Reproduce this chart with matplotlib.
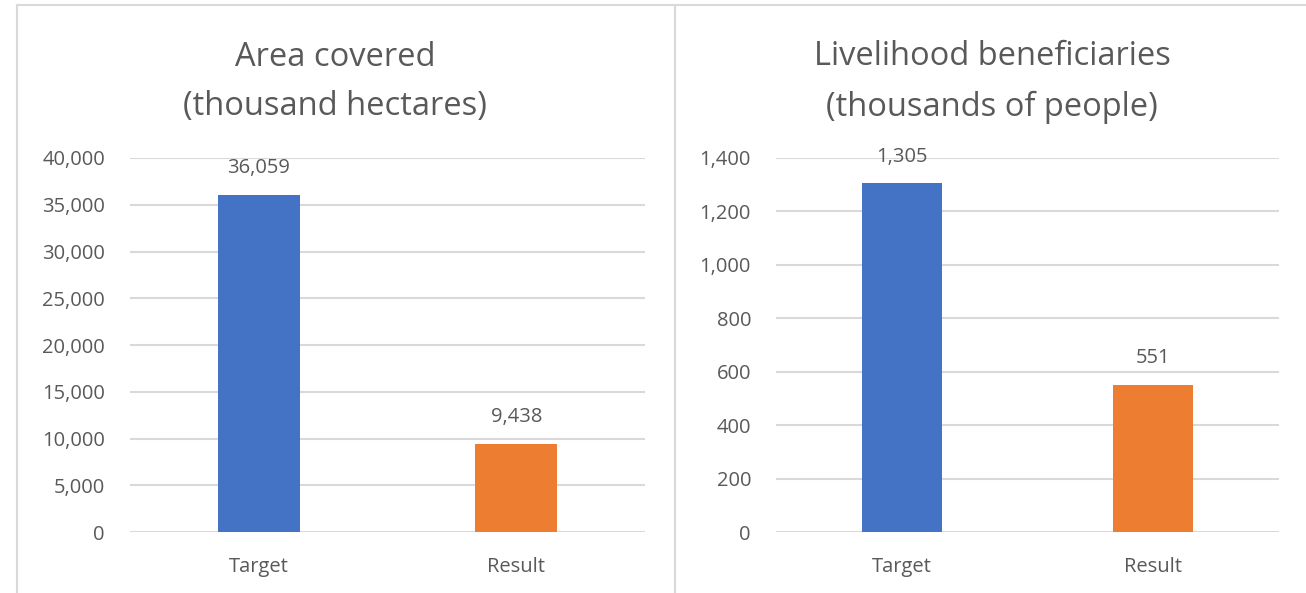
import matplotlib
matplotlib.use("Agg")
import matplotlib.pyplot as plt
from matplotlib.lines import Line2D
from matplotlib.ticker import FuncFormatter, MultipleLocator

categories = ["Target", "Result"]
area_values = [36059, 9438]
benef_values = [1305, 551]
titles = ["Area covered\n(thousand hectares)", "Livelihood beneficiaries\n(thousands of people)"]
bar_colors = ["#4472C4", "#ED7D31"]

plt.rcParams['font.family'] = ['Open Sans', 'DejaVu Sans']
TXT = "#595959"
GRID = "#D9D9D9"

W, H = 1306, 593
fig = plt.figure(figsize=(W / 100, H / 100), dpi=100)

def fx(px):
    return px / W

def fy(py):
    return 1 - py / H

# panel borders
fig.add_artist(Line2D([fx(17), fx(1306)], [fy(5), fy(5)], color=GRID, lw=1.5, transform=fig.transFigure))
fig.add_artist(Line2D([fx(17), fx(17)], [fy(5), fy(593)], color=GRID, lw=1.5, transform=fig.transFigure))
fig.add_artist(Line2D([fx(674.5), fx(674.5)], [fy(5), fy(593)], color=GRID, lw=1.5, transform=fig.transFigure))

panels = [
    dict(left=130, right=645, ymax=40000, step=5000, vals=area_values, title=titles[0], tx=335),
    dict(left=776, right=1279, ymax=1400, step=200, vals=benef_values, title=titles[1], tx=992),
]

FS = 14.5
for p in panels:
    ax = fig.add_axes([fx(p["left"]), fy(532), fx(p["right"] - p["left"]), (532 - 158) / H])
    x = range(len(categories))
    ax.bar(x, p["vals"], width=0.32, color=bar_colors, zorder=3)
    ax.set_xlim(-0.5, 1.5)
    ax.set_ylim(0, p["ymax"])
    ax.yaxis.set_major_locator(MultipleLocator(p["step"]))
    ax.yaxis.set_major_formatter(FuncFormatter(lambda v, pos: f"{int(v):,}"))
    ax.grid(axis="y", color=GRID, lw=1.5, zorder=0)
    ax.set_axisbelow(True)
    for s in ax.spines.values():
        s.set_visible(False)
    ax.tick_params(axis="both", length=0, labelsize=FS, labelcolor=TXT)
    ax.tick_params(axis="y", pad=18)
    ax.tick_params(axis="x", pad=18)
    ax.set_xticks(list(x))
    ax.set_xticklabels(categories)
    for xi, v in zip(x, p["vals"]):
        ax.annotate(f"{v:,}", (xi, v), xytext=(0, 19), textcoords="offset points",
                    ha="center", va="center", fontsize=FS, color=TXT)
    fig.text(fx(p["tx"]), fy(82), p["title"], ha="center", va="center",
             fontsize=23.5, color=TXT, linespacing=1.68)

fig.savefig("out.png", dpi=100)
